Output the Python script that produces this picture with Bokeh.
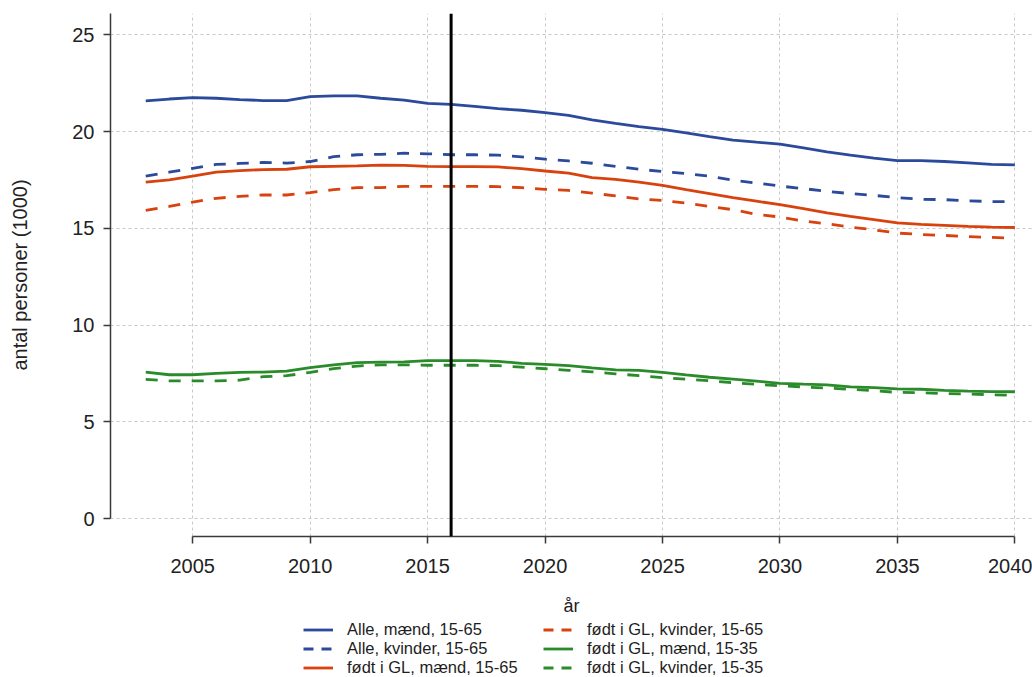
from bokeh.plotting import figure
from bokeh.layouts import column
from bokeh.models import Range1d, FixedTicker, Span, Legend, LegendItem
from bokeh.embed import file_html
from bokeh.resources import INLINE

years = list(range(2003, 2041))

alle_maend_1565 = [21.58, 21.68, 21.75, 21.72, 21.65, 21.6, 21.6, 21.8, 21.84, 21.84,
                   21.72, 21.62, 21.45, 21.4, 21.3, 21.18, 21.1, 20.98, 20.83, 20.6,
                   20.42, 20.25, 20.11, 19.93, 19.74, 19.56, 19.45, 19.35, 19.15, 18.95,
                   18.78, 18.62, 18.5, 18.5, 18.45, 18.38, 18.3, 18.28]
alle_kvinder_1565 = [17.69, 17.9, 18.1, 18.3, 18.35, 18.4, 18.37, 18.45, 18.7, 18.8,
                     18.82, 18.88, 18.85, 18.8, 18.8, 18.78, 18.69, 18.57, 18.48, 18.36,
                     18.2, 18.05, 17.93, 17.83, 17.69, 17.48, 17.34, 17.18, 17.05, 16.91,
                     16.79, 16.7, 16.58, 16.5, 16.48, 16.42, 16.38, 16.38]
gl_maend_1565 = [17.39, 17.5, 17.69, 17.9, 17.98, 18.03, 18.05, 18.18, 18.2, 18.22,
                 18.26, 18.25, 18.2, 18.19, 18.19, 18.17, 18.08, 17.96, 17.85, 17.62,
                 17.53, 17.38, 17.22, 17.0, 16.79, 16.58, 16.4, 16.22, 16.02, 15.8,
                 15.61, 15.45, 15.28, 15.2, 15.15, 15.1, 15.06, 15.04]
gl_kvinder_1565 = [15.92, 16.13, 16.35, 16.55, 16.65, 16.72, 16.72, 16.84, 17.0, 17.1,
                   17.1, 17.17, 17.17, 17.17, 17.17, 17.15, 17.1, 17.01, 16.96, 16.82,
                   16.67, 16.51, 16.44, 16.3, 16.13, 15.96, 15.72, 15.58, 15.37, 15.23,
                   15.06, 14.92, 14.75, 14.68, 14.63, 14.57, 14.53, 14.49]
gl_maend_1535 = [7.57, 7.43, 7.43, 7.5, 7.55, 7.57, 7.62, 7.8, 7.94, 8.06,
                 8.08, 8.1, 8.16, 8.16, 8.16, 8.12, 8.02, 7.97, 7.9, 7.78,
                 7.68, 7.66, 7.55, 7.42, 7.3, 7.2, 7.1, 6.98, 6.94, 6.91,
                 6.8, 6.76, 6.7, 6.68, 6.62, 6.58, 6.56, 6.55]
gl_kvinder_1535 = [7.19, 7.11, 7.11, 7.11, 7.15, 7.33, 7.38, 7.55, 7.75, 7.88,
                   7.94, 7.94, 7.92, 7.92, 7.92, 7.9, 7.82, 7.74, 7.66, 7.58,
                   7.48, 7.38, 7.28, 7.2, 7.12, 7.02, 6.94, 6.86, 6.8, 6.74,
                   6.68, 6.6, 6.52, 6.5, 6.46, 6.43, 6.4, 6.36]

labels = ["Alle, mænd, 15-65", "Alle, kvinder, 15-65", "født i GL, mænd, 15-65",
          "født i GL, kvinder, 15-65", "født i GL, mænd, 15-35", "født i GL, kvinder, 15-35"]
x_ticks = [2005, 2010, 2015, 2020, 2025, 2030, 2035, 2040]
y_ticks = [0, 5, 10, 15, 20, 25]
prognose_start = 2016

BLUE = "#2b4a9b"
RED = "#d8420e"
GREEN = "#2a8b2a"
FONT = "Liberation Sans"

p = figure(width=1032, height=618, output_backend="svg", toolbar_location=None,
           x_range=Range1d(2001.5, 2040.75), y_range=Range1d(-0.93, 26.1),
           min_border_left=110, min_border_right=0, min_border_top=13,
           min_border_bottom=82)
p.outline_line_color = None
p.background_fill_color = "white"

series = [
    (alle_maend_1565, BLUE, "solid"),
    (alle_kvinder_1565, BLUE, "12 11"),
    (gl_maend_1565, RED, "solid"),
    (gl_kvinder_1565, RED, "12 11"),
    (gl_maend_1535, GREEN, "solid"),
    (gl_kvinder_1535, GREEN, "12 11"),
]
for vals, col, dash in series:
    p.line(years, vals, line_color=col, line_width=2.8, line_dash=dash)

p.add_layout(Span(location=prognose_start, dimension="height", line_color="black",
                  line_width=3))

# axes
for ax in (p.xaxis[0], p.yaxis[0]):
    ax.axis_line_color = "#3a3a3a"
    ax.axis_line_width = 1.5
    ax.major_tick_line_color = "#3a3a3a"
    ax.major_tick_line_width = 1.5
    ax.major_tick_in = 0
    ax.major_tick_out = 7
    ax.minor_tick_line_color = None
    ax.major_label_text_font = FONT
    ax.major_label_text_font_size = "20px"
    ax.major_label_text_color = "#222222"
    ax.axis_label_text_font = FONT
    ax.axis_label_text_font_style = "normal"
    ax.axis_label_text_color = "#222222"

p.xaxis.ticker = FixedTicker(ticks=x_ticks)
p.yaxis.ticker = FixedTicker(ticks=y_ticks)
p.xaxis.bounds = (2005, 2040)
p.yaxis.bounds = (0, 26.1)
p.xaxis.major_label_standoff = 15
p.yaxis.major_label_standoff = 9
p.xaxis.axis_label = "år"
p.yaxis.axis_label = "antal personer (1000)"
p.xaxis.axis_label_text_font_size = "18px"
p.yaxis.axis_label_text_font_size = "20px"
p.xaxis.axis_label_standoff = 20
p.yaxis.axis_label_standoff = 38

p.xgrid.ticker = FixedTicker(ticks=x_ticks)
p.ygrid.ticker = FixedTicker(ticks=y_ticks)
for g in (p.xgrid[0], p.ygrid[0]):
    g.grid_line_color = "#c8c8c8"
    g.grid_line_dash = "3 3"
    g.grid_line_width = 1

# legend strip below the plot (keys only; no data drawn here)
lg = figure(width=1032, height=59, output_backend="svg", toolbar_location=None,
            x_range=Range1d(0, 1), y_range=Range1d(0, 1),
            x_axis_type=None, y_axis_type=None, min_border=0)
lg.outline_line_color = None
lg.grid.visible = False
nan = float("nan")
keys = []
for (vals, col, dash), lab in zip(series, labels):
    r = lg.line(x=[nan], y=[nan], line_color=col, line_width=2.8,
                line_dash="10 8" if dash != "solid" else "solid")
    keys.append(LegendItem(label=lab, renderers=[r]))

legend = Legend(items=keys, orientation="vertical", nrows=3,
                glyph_width=30, glyph_height=19, label_height=19, label_width=196,
                label_standoff=14, spacing=0, padding=0, margin=0,
                location=(193, 0.5),
                border_line_color=None, background_fill_alpha=0,
                label_text_font=FONT, label_text_font_size="16.5px",
                label_text_color="#1e1e1e")
lg.add_layout(legend)

layout = column(p, lg, spacing=0)
open("out.html", "w").write(file_html(layout, INLINE))
